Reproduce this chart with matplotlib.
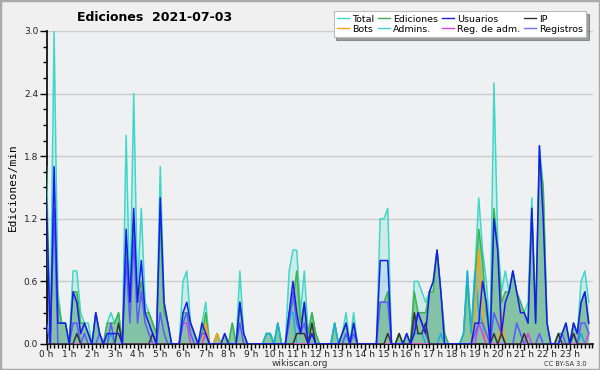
import numpy as np
import matplotlib
matplotlib.use("Agg")
import matplotlib.pyplot as plt
from matplotlib.ticker import MultipleLocator, FixedLocator
from matplotlib.patches import Rectangle
from matplotlib.lines import Line2D

# ---- data: 10-minute intervals, edits per minute ----
total = [1.7, 0.1, 3.0, 0.5, 0.2, 0.2,
         0.0, 0.7, 0.7, 0.3, 0.2, 0.2,
         0.0, 0.3, 0.1, 0.0, 0.2, 0.3,
         0.2, 0.3, 0.0, 2.0, 0.4, 2.4,
         0.5, 1.3, 0.4, 0.3, 0.2, 0.1,
         1.7, 0.4, 0.2, 0.0, 0.0, 0.0,
         0.6, 0.7, 0.2, 0.1, 0.0, 0.2,
         0.4, 0.0, 0.0, 0.1, 0.0, 0.1,
         0.0, 0.2, 0.0, 0.7, 0.1, 0.0,
         0.0, 0.0, 0.0, 0.0, 0.1, 0.1,
         0.0, 0.2, 0.0, 0.0, 0.7, 0.9,
         0.9, 0.3, 0.7, 0.1, 0.3, 0.1,
         0.0, 0.0, 0.0, 0.0, 0.2, 0.0,
         0.1, 0.3, 0.0, 0.3, 0.0, 0.0,
         0.0, 0.0, 0.0, 0.0, 1.2, 1.2,
         1.3, 0.0, 0.0, 0.1, 0.0, 0.1,
         0.0, 0.6, 0.6, 0.5, 0.4, 0.5,
         0.6, 0.9, 0.5, 0.1, 0.0, 0.0,
         0.0, 0.0, 0.1, 0.7, 0.1, 0.7,
         1.4, 0.9, 0.6, 0.1, 2.5, 1.0,
         0.5, 0.7, 0.5, 0.7, 0.5, 0.4,
         0.3, 0.4, 1.4, 0.2, 1.9, 1.5,
         0.2, 0.0, 0.0, 0.1, 0.1, 0.2,
         0.0, 0.2, 0.1, 0.6, 0.7, 0.4]

ediciones = [1.3, 0.1, 1.3, 0.4, 0.2, 0.2,
             0.0, 0.5, 0.5, 0.2, 0.2, 0.1,
             0.0, 0.3, 0.1, 0.0, 0.2, 0.2,
             0.2, 0.3, 0.0, 0.9, 0.4, 1.2,
             0.4, 0.6, 0.3, 0.3, 0.2, 0.1,
             1.2, 0.3, 0.2, 0.0, 0.0, 0.0,
             0.3, 0.3, 0.2, 0.1, 0.0, 0.1,
             0.3, 0.0, 0.0, 0.1, 0.0, 0.1,
             0.0, 0.2, 0.0, 0.4, 0.1, 0.0,
             0.0, 0.0, 0.0, 0.0, 0.1, 0.1,
             0.0, 0.2, 0.0, 0.0, 0.3, 0.4,
             0.7, 0.2, 0.4, 0.1, 0.3, 0.1,
             0.0, 0.0, 0.0, 0.0, 0.2, 0.0,
             0.1, 0.2, 0.0, 0.2, 0.0, 0.0,
             0.0, 0.0, 0.0, 0.0, 0.4, 0.4,
             0.5, 0.0, 0.0, 0.1, 0.0, 0.1,
             0.0, 0.5, 0.3, 0.3, 0.3, 0.5,
             0.5, 0.9, 0.5, 0.1, 0.0, 0.0,
             0.0, 0.0, 0.1, 0.6, 0.1, 0.6,
             1.1, 0.8, 0.3, 0.1, 1.3, 0.9,
             0.4, 0.5, 0.5, 0.7, 0.5, 0.4,
             0.3, 0.2, 1.3, 0.2, 1.8, 1.5,
             0.2, 0.0, 0.0, 0.1, 0.1, 0.2,
             0.0, 0.2, 0.1, 0.4, 0.5, 0.2]

usuarios = [1.4, 0.0, 1.7, 0.2, 0.2, 0.2,
            0.0, 0.5, 0.4, 0.1, 0.2, 0.1,
            0.0, 0.3, 0.1, 0.0, 0.1, 0.1,
            0.1, 0.1, 0.0, 1.1, 0.4, 1.3,
            0.4, 0.8, 0.3, 0.2, 0.1, 0.0,
            1.4, 0.4, 0.2, 0.0, 0.0, 0.0,
            0.3, 0.4, 0.2, 0.1, 0.0, 0.2,
            0.1, 0.0, 0.0, 0.0, 0.0, 0.1,
            0.0, 0.0, 0.0, 0.4, 0.1, 0.0,
            0.0, 0.0, 0.0, 0.0, 0.0, 0.0,
            0.0, 0.0, 0.0, 0.0, 0.3, 0.6,
            0.3, 0.1, 0.4, 0.0, 0.1, 0.0,
            0.0, 0.0, 0.0, 0.0, 0.0, 0.0,
            0.1, 0.2, 0.0, 0.2, 0.0, 0.0,
            0.0, 0.0, 0.0, 0.0, 0.8, 0.8,
            0.8, 0.0, 0.0, 0.0, 0.0, 0.1,
            0.0, 0.1, 0.3, 0.2, 0.1, 0.5,
            0.6, 0.9, 0.5, 0.0, 0.0, 0.0,
            0.0, 0.0, 0.0, 0.0, 0.0, 0.2,
            0.2, 0.6, 0.4, 0.0, 1.2, 0.9,
            0.1, 0.4, 0.5, 0.7, 0.5, 0.3,
            0.3, 0.2, 1.3, 0.2, 1.9, 1.2,
            0.2, 0.0, 0.0, 0.0, 0.1, 0.2,
            0.0, 0.2, 0.1, 0.4, 0.5, 0.2]

ip = [0.0, 0.0, 0.0, 0.0, 0.0, 0.0,
      0.0, 0.0, 0.1, 0.0, 0.0, 0.0,
      0.0, 0.0, 0.0, 0.0, 0.0, 0.0,
      0.0, 0.2, 0.0, 0.0, 0.0, 0.0,
      0.0, 0.0, 0.0, 0.0, 0.1, 0.0,
      0.0, 0.0, 0.0, 0.0, 0.0, 0.0,
      0.0, 0.0, 0.0, 0.0, 0.0, 0.0,
      0.0, 0.0, 0.0, 0.0, 0.0, 0.0,
      0.0, 0.0, 0.0, 0.0, 0.0, 0.0,
      0.0, 0.0, 0.0, 0.0, 0.0, 0.0,
      0.0, 0.0, 0.0, 0.0, 0.0, 0.0,
      0.1, 0.1, 0.1, 0.0, 0.2, 0.0,
      0.0, 0.0, 0.0, 0.0, 0.0, 0.0,
      0.0, 0.0, 0.0, 0.0, 0.0, 0.0,
      0.0, 0.0, 0.0, 0.0, 0.0, 0.0,
      0.1, 0.0, 0.0, 0.1, 0.0, 0.0,
      0.0, 0.3, 0.1, 0.1, 0.2, 0.0,
      0.0, 0.0, 0.0, 0.0, 0.0, 0.0,
      0.0, 0.0, 0.0, 0.0, 0.0, 0.0,
      0.0, 0.0, 0.0, 0.0, 0.1, 0.0,
      0.1, 0.0, 0.0, 0.0, 0.0, 0.0,
      0.1, 0.0, 0.0, 0.0, 0.0, 0.0,
      0.0, 0.0, 0.0, 0.1, 0.0, 0.0,
      0.0, 0.1, 0.0, 0.0, 0.0, 0.0]

registros = [0.2, 0.0, 1.3, 0.0, 0.0, 0.0,
             0.0, 0.2, 0.2, 0.0, 0.1, 0.0,
             0.0, 0.0, 0.1, 0.0, 0.0, 0.2,
             0.0, 0.0, 0.0, 0.8, 0.2, 1.0,
             0.2, 0.5, 0.2, 0.1, 0.0, 0.0,
             0.3, 0.1, 0.0, 0.0, 0.0, 0.0,
             0.2, 0.3, 0.1, 0.0, 0.0, 0.1,
             0.1, 0.0, 0.0, 0.0, 0.0, 0.0,
             0.0, 0.0, 0.0, 0.2, 0.0, 0.0,
             0.0, 0.0, 0.0, 0.0, 0.0, 0.0,
             0.0, 0.0, 0.0, 0.0, 0.2, 0.5,
             0.2, 0.1, 0.2, 0.0, 0.0, 0.0,
             0.0, 0.0, 0.0, 0.0, 0.0, 0.0,
             0.0, 0.1, 0.0, 0.1, 0.0, 0.0,
             0.0, 0.0, 0.0, 0.0, 0.4, 0.4,
             0.4, 0.0, 0.0, 0.0, 0.0, 0.0,
             0.0, 0.2, 0.3, 0.2, 0.1, 0.0,
             0.0, 0.0, 0.0, 0.0, 0.0, 0.0,
             0.0, 0.0, 0.0, 0.0, 0.0, 0.1,
             0.2, 0.2, 0.1, 0.0, 0.3, 0.2,
             0.1, 0.0, 0.0, 0.0, 0.2, 0.1,
             0.0, 0.0, 0.0, 0.0, 0.1, 0.0,
             0.0, 0.0, 0.0, 0.0, 0.1, 0.0,
             0.0, 0.1, 0.0, 0.2, 0.2, 0.1]

admins_idx = [17, 58, 59, 61, 64, 65, 76, 79, 81, 97, 98, 99, 104, 110, 111, 112, 113, 114, 115, 141]
admins_val = [0.1, 0.1, 0.1, 0.2, 0.3, 0.3, 0.2, 0.1, 0.1, 0.1, 0.1, 0.1, 0.1, 0.1, 0.7, 0.1, 0.7, 0.3, 0.2, 0.1]
bots_idx = [42, 45, 113, 114, 115, 120]
bots_val = [0.2, 0.1, 0.3, 0.9, 0.3, 0.3]
radm_idx = [36, 37, 42, 114, 115, 127, 143]
radm_val = [0.2, 0.2, 0.1, 0.2, 0.1, 0.1, 0.1]

hours = [f"{h} h" for h in range(24)]

n = len(total)
admins = np.zeros(n); admins[admins_idx] = admins_val
bots = np.zeros(n); bots[bots_idx] = bots_val
reg_adm = np.zeros(n); reg_adm[radm_idx] = radm_val
x = np.arange(n) / 6.0

# ---- figure ----
fig = plt.figure(figsize=(6.0, 3.7), dpi=100, facecolor="#f0f0f0")
ax = fig.add_axes([0.0775, 0.0703, 0.91, 0.846])
ax.set_facecolor("#eef0f2")

for yv in [0.6, 1.2, 1.8, 2.4, 3.0]:
    ax.axhline(yv, color="#cccccc", lw=1.0, zorder=0)

c_total = "#3fd8c8"
c_ed = "#3cb44b"
c_us = "#1a1aee"
c_ip = "#333333"
c_bots = "#ff9f1a"
c_adm = "#18b0dc"
c_radm = "#d640e8"
c_reg = "#5a5aff"

ax.fill_between(x, total, color=c_total, alpha=0.18, lw=0, zorder=1)
ax.fill_between(x, usuarios, color="#7aa8ff", alpha=0.18, lw=0, zorder=1)
ax.fill_between(x, ediciones, color="#3ca04b", alpha=0.45, lw=0, zorder=2)

lw = 1.1
ax.plot(x, total, color=c_total, lw=lw, zorder=3)
ax.plot(x, ediciones, color=c_ed, lw=lw, zorder=3)
ax.plot(x, admins, color=c_adm, lw=lw, zorder=4)
ax.plot(x, bots, color=c_bots, lw=lw, zorder=4)
ax.plot(x, reg_adm, color=c_radm, lw=lw, zorder=4)
ax.plot(x, registros, color=c_reg, lw=lw, zorder=5)
ax.plot(x, ip, color=c_ip, lw=lw, zorder=5)
ax.plot(x, usuarios, color=c_us, lw=lw, zorder=6)

ax.set_xlim(0, 24)
ax.set_ylim(0, 3.0)
ax.xaxis.set_major_locator(FixedLocator(range(24)))
ax.set_xticklabels(hours)
ax.xaxis.set_minor_locator(MultipleLocator(1 / 6))
ax.yaxis.set_major_locator(MultipleLocator(0.6))
ax.yaxis.set_minor_locator(MultipleLocator(0.15))
ax.yaxis.set_major_formatter(matplotlib.ticker.FormatStrFormatter("%.1f"))
ax.tick_params(axis="x", which="major", labelsize=6.5, length=4, width=1,
               color="black", labelcolor="#222222", pad=0.5)
ax.tick_params(axis="y", which="major", labelsize=6.5, length=5, width=1,
               color="black", labelcolor="#222222", pad=1)
ax.tick_params(axis="both", which="minor", length=3, width=1, color="black")

for s in ["top", "right"]:
    ax.spines[s].set_visible(False)
for s in ["left", "bottom"]:
    ax.spines[s].set_color("black")
    ax.spines[s].set_linewidth(1.2)

ax.set_ylabel("Ediciones/min", fontsize=8, family="DejaVu Sans Mono", labelpad=4)

fig.text(0.258, 0.952, "Ediciones  2021-07-03", fontsize=9, fontweight="bold",
         ha="center", va="center")
fig.text(0.50, 0.017, "wikiscan.org", fontsize=6.5, ha="center", va="center", color="#333333")
fig.text(0.942, 0.017, "CC BY-SA 3.0", fontsize=4.8, ha="center", va="center", color="#333333")

# legend (row order)
names = ["Total", "Bots", "Ediciones", "Admins.", "Usuarios", "Reg. de adm.", "IP", "Registros"]
cols = [c_total, c_bots, c_ed, "#3ad0e0", c_us, c_radm, c_ip, "#7070ff"]
handles = [Line2D([0], [0], color=c, lw=1.0) for c in cols]
leg = fig.legend(handles, names, ncol=4, loc="upper right",
                 bbox_to_anchor=(0.985, 0.982), fontsize=6.8, frameon=True,
                 fancybox=False, shadow=True, handlelength=1.25, handletextpad=0.35,
                 columnspacing=0.4, labelspacing=0.1, borderpad=0.35,
                 framealpha=1.0)
leg.get_frame().set_edgecolor("#bbbbbb")
leg.get_frame().set_linewidth(0.8)

fig.patches.append(Rectangle((0, 0), 1, 1, transform=fig.transFigure, fill=False,
                             edgecolor="#aaaaaa", lw=2.5))

fig.savefig("out.png", dpi=100, facecolor=fig.get_facecolor())
